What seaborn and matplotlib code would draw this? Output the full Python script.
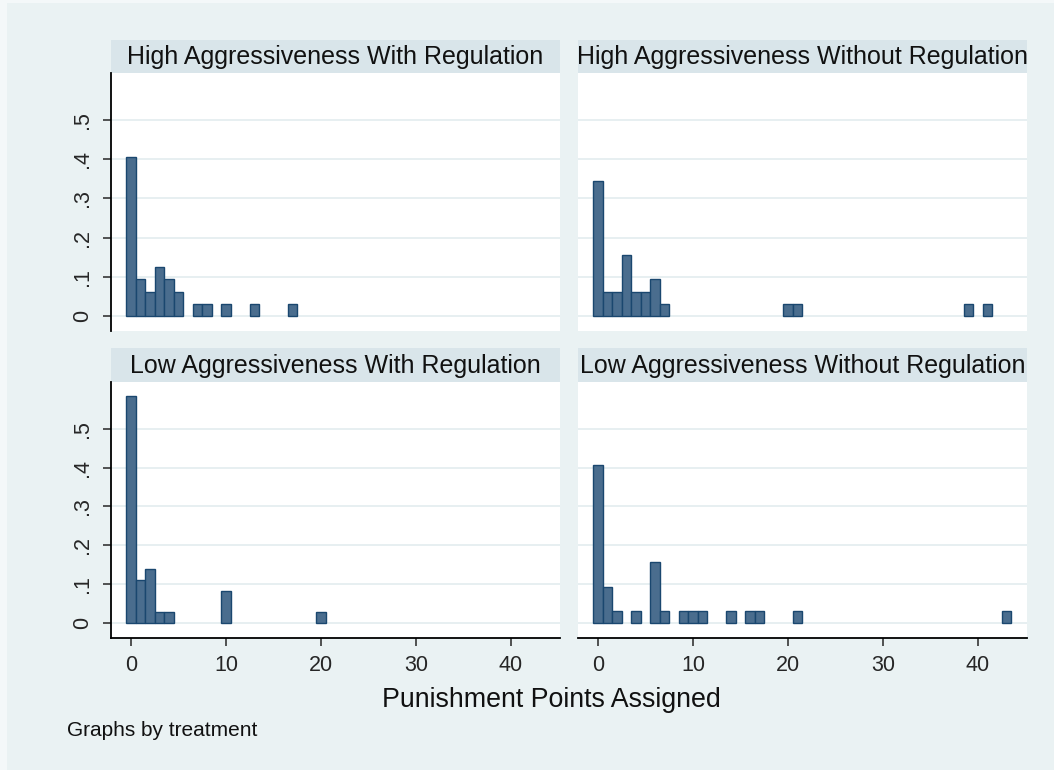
import numpy as np
import pandas as pd
import matplotlib
matplotlib.use("Agg")
import matplotlib.pyplot as plt
import seaborn as sns

# Panel titles (one per treatment)
panel_titles = [
    "High Aggressiveness With Regulation",
    "High Aggressiveness Without Regulation",
    "Low Aggressiveness With Regulation",
    "Low Aggressiveness Without Regulation",
]

# Punishment points observed and how many subjects assigned each amount
high_with_points = [0, 1, 2, 3, 4, 5, 7, 8, 10, 13, 17]
high_with_counts = [13, 3, 2, 4, 3, 2, 1, 1, 1, 1, 1]

high_without_points = [0, 1, 2, 3, 4, 5, 6, 7, 20, 21, 39, 41]
high_without_counts = [11, 2, 2, 5, 2, 2, 3, 1, 1, 1, 1, 1]

low_with_points = [0, 1, 2, 3, 4, 10, 20]
low_with_counts = [21, 4, 5, 1, 1, 3, 1]

low_without_points = [0, 1, 2, 4, 6, 7, 9, 10, 11, 14, 16, 17, 21, 43]
low_without_counts = [13, 3, 1, 1, 5, 1, 1, 1, 1, 1, 1, 1, 1, 1]

x_ticks = [0, 10, 20, 30, 40]
y_ticks = [0, 0.1, 0.2, 0.3, 0.4, 0.5]
y_tick_labels = ["0", ".1", ".2", ".3", ".4", ".5"]
x_title = "Punishment Points Assigned"
note_text = "Graphs by treatment"

# Long-format data: one row per subject
groups = [
    (high_with_points, high_with_counts),
    (high_without_points, high_without_counts),
    (low_with_points, low_with_counts),
    (low_without_points, low_without_counts),
]
frames = []
for title, (pts, cnt) in zip(panel_titles, groups):
    frames.append(pd.DataFrame({
        "treatment": title,
        "points": np.repeat(pts, cnt),
    }))
df = pd.concat(frames, ignore_index=True)

# Colours
outer_bg = "#F4F8F9"
bg = "#EAF2F3"
strip_bg = "#D9E5EA"
grid_col = "#E3ECEF"
bar_fill = "#4A6D8E"
bar_edge = "#1A476F"

sns.set_style("white")
plt.rcParams["font.family"] = ["Liberation Sans", "DejaVu Sans"]

W, H = 1054, 770
fig = plt.figure(figsize=(W / 100, H / 100), dpi=100, facecolor=outer_bg)


def box(x0, y0, x1, y1):
    return [x0 / W, 1 - y1 / H, (x1 - x0) / W, (y1 - y0) / H]


# graph region (thin lighter margin on the left and top only)
fig.patches.append(plt.Rectangle((7 / W, 0), (W - 7) / W, (H - 3) / H,
                                 transform=fig.transFigure, facecolor=bg,
                                 edgecolor="none", zorder=-10))

cols = [(111, 560), (578, 1027)]
rows = [((40, 73), (73, 331)), ((348, 382), (382, 638))]

for i, title in enumerate(panel_titles):
    r, c = divmod(i, 2)
    (sx0, sx1) = cols[c]
    (st0, st1), (py0, py1) = rows[r]

    # strip title
    sax = fig.add_axes(box(sx0, st0, sx1, st1))
    sax.set_facecolor(strip_bg)
    sax.set_xticks([])
    sax.set_yticks([])
    for s in sax.spines.values():
        s.set_visible(False)
    sax.text(0.5, 0.48, title, ha="center", va="center",
             fontsize=18, color="#111111", transform=sax.transAxes)

    ax = fig.add_axes(box(sx0, py0, sx1, py1))
    ax.set_facecolor("white")
    sub = df[df["treatment"] == title]
    sns.histplot(data=sub, x="points", discrete=True, stat="probability",
                 color=bar_fill, edgecolor=bar_edge, linewidth=1.0,
                 alpha=1, ax=ax)
    # drop empty bins so no outline shows at zero
    for p in list(ax.patches):
        if p.get_height() == 0:
            p.remove()

    ax.set_xlabel("")
    ax.set_ylabel("")
    ax.set_xlim(-2.1, 45.15)
    ax.set_ylim(-0.038, 0.62)
    ax.set_axisbelow(True)
    ax.set_yticks(y_ticks)
    ax.yaxis.grid(True, color=grid_col, linewidth=1.2)
    ax.xaxis.grid(False)
    ax.set_xticks(x_ticks)

    for s in ["top", "right"]:
        ax.spines[s].set_visible(False)

    if c == 0:
        ax.spines["left"].set_color("black")
        ax.spines["left"].set_linewidth(1.3)
        ax.set_yticklabels(y_tick_labels, rotation=90, va="center")
        ax.tick_params(axis="y", length=6, width=1.1, pad=7,
                       labelsize=15.5, left=True, labelleft=True)
    else:
        ax.spines["left"].set_visible(False)
        ax.tick_params(axis="y", left=False, labelleft=False)

    if r == 1:
        ax.spines["bottom"].set_color("black")
        ax.spines["bottom"].set_linewidth(1.3)
        ax.set_xticklabels([str(t) for t in x_ticks])
        ax.tick_params(axis="x", length=6, width=1.1, pad=6,
                       labelsize=15.5, bottom=True, labelbottom=True)
    else:
        ax.spines["bottom"].set_visible(False)
        ax.tick_params(axis="x", bottom=False, labelbottom=False)

fig.text(551 / W, 1 - 700 / H, x_title, ha="center", va="center",
         fontsize=19.3, color="#111111")
fig.text(67 / W, 1 - 730 / H, note_text, ha="left", va="center",
         fontsize=15, color="#111111")

fig.savefig("out.png", dpi=100, facecolor=outer_bg)
